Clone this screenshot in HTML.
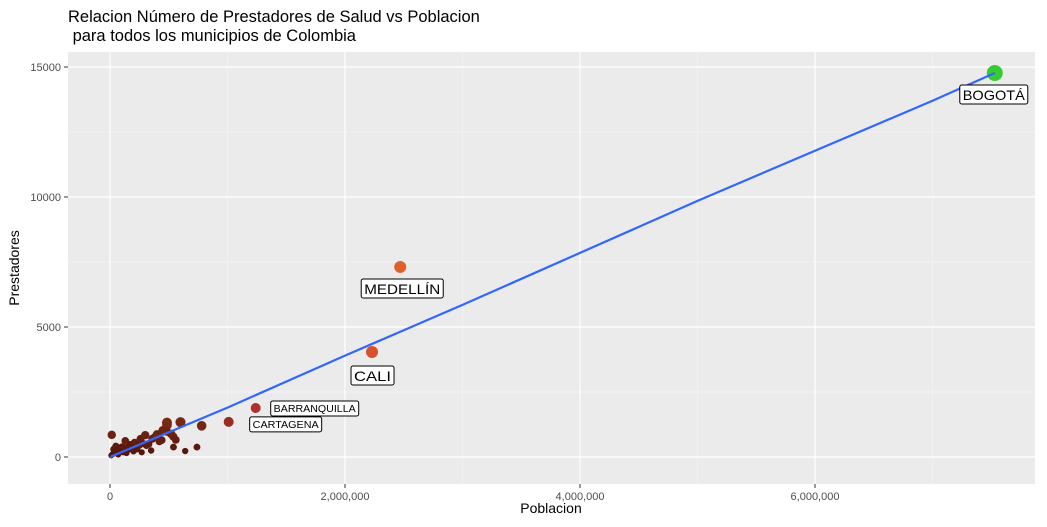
<!DOCTYPE html>
<html><head><meta charset="utf-8"><style>
body{margin:0;background:#fff;font-family:"Liberation Sans",sans-serif}
</style></head><body>
<svg id="c" width="1047" height="522" xmlns="http://www.w3.org/2000/svg" style="font-family:'Liberation Sans',sans-serif">
<text x="68" y="22" font-size="16.5" fill="#000">Relacion Número de Prestadores de Salud vs Poblacion</text>
<text x="68" y="41" font-size="16.5" fill="#000" xml:space="preserve"> para todos los municipios de Colombia</text>
<rect x="68" y="52" width="967" height="432" fill="#ebebeb"/>
<g id="grid"></g><g id="axes"></g><g id="marks"></g><g id="labels"></g>
<text x="551" y="513" font-size="14" text-anchor="middle" fill="#000">Poblacion</text>
<text transform="translate(19,268) rotate(-90)" font-size="14" text-anchor="middle" fill="#000">Prestadores</text>
</svg>
<script>
const names=["BOGOTÁ","MEDELLÍN","CALI","BARRANQUILLA","CARTAGENA"];
const popBig=[7530000,2470000,2230000,1240000,1010000];
const prestBig=[14770,7310,4040,1885,1350];
const popSmall=[15000,485000,485000,600000,260000,540000,640000,540000,780000,480000,450000,520000,360000,300000,210000,170000,130000,100000,80000,60000,40000,30000,20000,10000,50000,90000,150000,230000,270000,330000,380000,420000,200000,250000,120000,70000,440000,560000,740000,350000,110000,160000,190000,60000,30000,85000,140000,280000,310000,400000];
const prestSmall=[850,1230,1320,1340,700,780,230,380,1200,990,1020,890,700,840,560,480,620,390,270,200,150,300,110,60,420,330,260,300,180,500,760,600,220,450,350,90,650,660,380,250,180,400,330,250,120,210,150,520,440,870];
const fitX=[0,1000000,2000000,3000000,4000000,5000000,6000000,7000000,7530000];
const fitY=[0,1900,3900,5850,7850,9850,11780,13700,14770];
const xTicks=[0,2000000,4000000,6000000];
const yTicks=[0,5000,10000,15000];
const ns="http://www.w3.org/2000/svg";
const X=v=>110+v/2000000*235, Y=v=>457-v/1000*26;
function mk(t,a,p){const e=document.createElementNS(ns,t);for(const k in a)e.setAttribute(k,a[k]);document.getElementById(p).appendChild(e);return e;}
[1000000,3000000,5000000,7000000].forEach(v=>{const e=mk("line",{x1:X(v),x2:X(v),y1:52,y2:484,stroke:"#f5f5f5","stroke-width":0.6},"grid");});
[2500,7500,12500].forEach(v=>{const e=mk("line",{x1:68,x2:1035,y1:Y(v),y2:Y(v),stroke:"#f5f5f5","stroke-width":0.6},"grid");});
xTicks.forEach(v=>{let e=mk("line",{x1:X(v),x2:X(v),y1:52,y2:484,stroke:"#fff","stroke-width":1.2},"grid");
e=mk("line",{x1:X(v),x2:X(v),y1:484,y2:488,stroke:"#333"},"axes");
e=mk("text",{x:X(v),y:500,"font-size":11,"text-anchor":"middle",fill:"#4d4d4d"},"axes");e.textContent=v.toLocaleString("en-US");});
yTicks.forEach(v=>{let e=mk("line",{x1:68,x2:1035,y1:Y(v),y2:Y(v),stroke:"#fff","stroke-width":1.2},"grid");
e=mk("line",{x1:64,x2:68,y1:Y(v),y2:Y(v),stroke:"#333"},"axes");
e=mk("text",{x:61,y:Y(v)+4,"font-size":11,"text-anchor":"end",fill:"#4d4d4d"},"axes");e.textContent=v;});
function col(y){const t=Math.min(y/5000,1);const r=Math.round(80+t*150),g=Math.round(20+t*80),b=Math.round(10+t*40);return `rgb(${r},${g},${b})`;}
popSmall.forEach((p,i)=>{const y=prestSmall[i];const e=mk("circle",{cx:X(p),cy:Y(y),r:2.8+y/600,fill:col(y)},"marks");});
const bigCols=["#33cc33","#e0602c","#d9502c","#b03030","#9a2a22"];
const bigR=[8,6,6,5,5];
popBig.forEach((p,i)=>{const e=mk("circle",{cx:X(p),cy:Y(prestBig[i]),r:bigR[i],fill:bigCols[i]},"marks");});
const fl=mk("polyline",{points:fitX.map((x,i)=>X(x)+","+Y(fitY[i])).join(" "),fill:"none",stroke:"#3366ff","stroke-width":2.2},"marks");

const lblDx=[-35,-39,-21,15,21], lblDy=[12,12,14,-7,-5], lblFs=[14,14,14,10,10], lblW=[68,82,43,88,72];
names.forEach((n,i)=>{const x=X(popBig[i])+lblDx[i],y=Y(prestBig[i])+lblDy[i],fs=lblFs[i];const w=lblW[i],h=fs+5;
const r=mk("rect",{x:x,y:y,width:w,height:h,rx:2,fill:"#fff",stroke:"#000","stroke-width":1},"labels");
const t=mk("text",{x:x+w/2,y:y+h-4,"font-size":fs,"text-anchor":"middle",textLength:w-6,lengthAdjust:"spacingAndGlyphs",fill:"#000"},"labels");t.textContent=n;});
</script>
</body></html>
